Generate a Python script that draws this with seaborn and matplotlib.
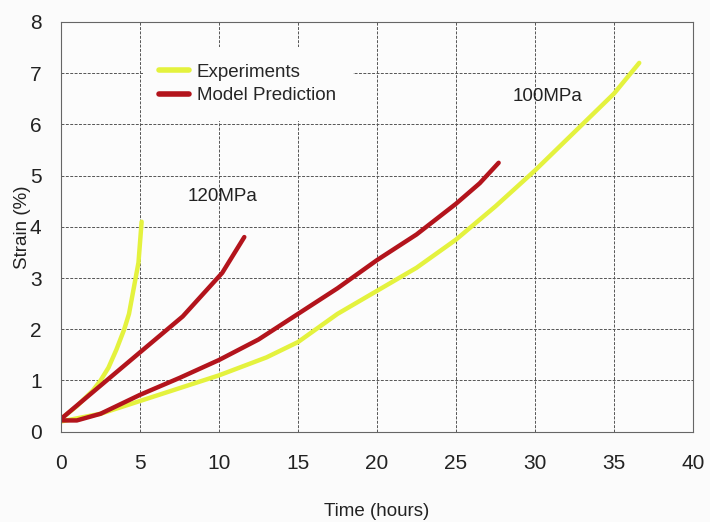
import matplotlib
matplotlib.use("Agg")
import matplotlib.pyplot as plt
import seaborn as sns
import pandas as pd

# ---- data ----
exp120_t = [0, 1.0, 2.0, 2.5, 3.0, 3.5, 4.0, 4.3, 4.6, 4.9, 5.1]
exp120_s = [0.25, 0.5, 0.8, 1.0, 1.25, 1.6, 2.0, 2.3, 2.8, 3.3, 4.1]

mod120_t = [0, 2.5, 5.0, 7.7, 10.2, 11.6]
mod120_s = [0.25, 0.9, 1.55, 2.25, 3.1, 3.8]

exp100_t = [0, 2.5, 5.0, 7.5, 10.0, 13.0, 15.0, 17.5, 20.0, 22.5, 25.0, 27.5, 30.0, 33.0, 35.0, 36.6]
exp100_s = [0.2, 0.35, 0.6, 0.85, 1.1, 1.45, 1.75, 2.3, 2.75, 3.2, 3.75, 4.4, 5.1, 6.0, 6.6, 7.2]

mod100_t = [0, 1.0, 2.5, 5.0, 7.5, 10.0, 12.5, 15.0, 17.5, 20.0, 22.5, 25.0, 26.5, 27.7]
mod100_s = [0.22, 0.22, 0.35, 0.72, 1.05, 1.4, 1.8, 2.3, 2.8, 3.35, 3.85, 4.45, 4.85, 5.25]

x_ticks = [0, 5, 10, 15, 20, 25, 30, 35, 40]
y_ticks = [0, 1, 2, 3, 4, 5, 6, 7, 8]
legend_labels = ["Experiments", "Model Prediction"]
stress_labels = ["120MPa", "100MPa"]

YELLOW = "#e4f23e"
RED = "#b3141c"

sns.set_theme(style="white")
plt.rcParams["font.family"] = ["Liberation Sans", "DejaVu Sans"]

fig = plt.figure(figsize=(7.1, 5.22), dpi=100, facecolor="#fbfbfb")
ax = fig.add_axes([0.086, 0.173, 0.890, 0.785])
ax.set_facecolor("#fcfcfc")

def draw(t, s, color, label=None):
    df = pd.DataFrame({"t": t, "s": s})
    sns.lineplot(data=df, x="t", y="s", ax=ax, color=color, linewidth=3.2,
                 sort=False, label=label, legend=bool(label), estimator=None)

draw(exp120_t, exp120_s, YELLOW, legend_labels[0])
draw(exp100_t, exp100_s, YELLOW)
draw(mod120_t, mod120_s, RED, legend_labels[1])
draw(mod100_t, mod100_s, RED)

ax.set_xlim(0, 40)
ax.set_ylim(0, 8)
ax.set_xticks(x_ticks)
ax.set_yticks(y_ticks)
ax.tick_params(axis="both", length=0, labelsize=15, colors="#222222")
ax.tick_params(axis="x", pad=16)
ax.tick_params(axis="y", pad=14)
ax.grid(True, color="#555555", linestyle=(0, (3, 1.5)), linewidth=0.7)
for sp in ax.spines.values():
    sp.set_color("#666666")
    sp.set_linewidth(0.8)

ax.set_xlabel("Time (hours)", fontsize=13.5, color="#222222", labelpad=22)
ax.set_ylabel("Strain (%)", fontsize=13.5, color="#222222")
ax.yaxis.set_label_coords(-0.048, 0.5)

ax.text(10.2, 4.6, stress_labels[0], fontsize=13.5, color="#222222", ha="center", va="center")
ax.text(30.8, 6.55, stress_labels[1], fontsize=13.5, color="#222222", ha="center", va="center")

leg = ax.legend(loc="upper left", bbox_to_anchor=(0.129, 0.94), frameon=True,
                fontsize=13.5, handlelength=1.6, handletextpad=0.4, labelspacing=0.35,
                borderaxespad=0, borderpad=0.9, fancybox=False)
leg.get_frame().set_facecolor("#fcfcfc")
leg.get_frame().set_edgecolor("none")
leg.get_frame().set_alpha(1)
for line in leg.get_lines():
    line.set_linewidth(4)

fig.savefig("out.png", dpi=100, facecolor=fig.get_facecolor())
